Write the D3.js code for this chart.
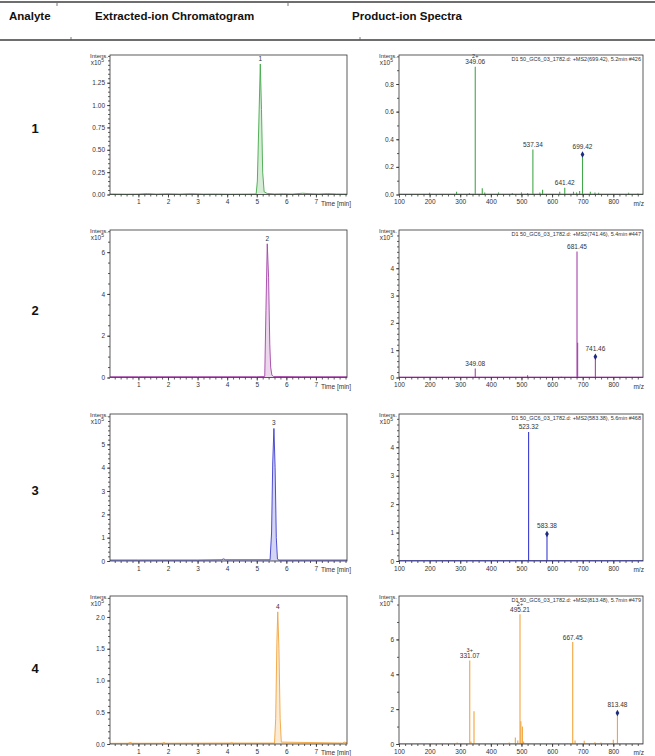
<!DOCTYPE html>
<html>
<head>
<meta charset="utf-8">
<script src="https://cdn.jsdelivr.net/npm/d3@7"></script>
<style>
  body { margin: 0; background: #fff; }
  svg { display: block; font-family: "Liberation Sans", Arial, sans-serif; }
  .axis text { font-size: 6.5px; fill: #333; }
  .axis path, .axis line { stroke: #333; stroke-width: 0.8; }
</style>
</head>
<body>
<div id="chart"></div>
<script>
const analytes = ['1', '2', '3', '4']
const colors = ['#43a84a', '#a444a8', '#3b3bd0', '#f2a43c']
const scanInfo = [
  'D1 50_GC6_03_1782.d: +MS2(699.42), 5.2min #426',
  'D1 50_GC6_03_1782.d: +MS2(741.46), 5.4min #447',
  'D1 50_GC6_03_1782.d: +MS2(583.38), 5.6min #468',
  'D1 50_GC6_03_1782.d: +MS2(813.48), 5.7min #479'
]
const chromExp = [5, 5, 5, 5]
const specExp = [5, 5, 5, 4]

// extracted-ion chromatograms: [time min, intensity x10^exp]
const chrom1 = [[0.04, 0.006], [0.6, 0.004], [1.0, 0.005], [1.3, 0.01], [1.6, 0.005], [2.0, 0.008], [2.4, 0.005], [2.75, 0.009], [3.2, 0.005], [3.6, 0.006], [4.1, 0.004], [4.6, 0.005], [4.98, 0.006], [5.02, 0.15], [5.07, 0.8], [5.12, 1.46], [5.16, 0.95], [5.2, 0.25], [5.25, 0.03], [5.35, 0.012], [5.6, 0.006], [5.9, 0.008], [6.2, 0.005], [6.55, 0.014], [6.8, 0.009], [7.1, 0.006], [7.4, 0.01], [7.7, 0.006], [8.05, 0.005]]
const chrom2 = [[0.04, 0.04], [1, 0.04], [2, 0.04], [3, 0.04], [4, 0.04], [5, 0.04], [5.27, 0.05], [5.31, 3.2], [5.355, 6.4], [5.4, 4.8], [5.44, 1.6], [5.47, 0.5], [5.51, 0.12], [5.56, 0.05], [6.5, 0.04], [8.05, 0.04]]
const chrom3 = [[0.04, 0.04], [1, 0.04], [2, 0.04], [3, 0.04], [3.8, 0.05], [3.88, 0.09], [3.95, 0.05], [5.45, 0.05], [5.5, 1.2], [5.54, 4.2], [5.58, 5.68], [5.62, 4.0], [5.66, 1.0], [5.7, 0.08], [5.75, 0.04], [8.05, 0.04]]
const chrom4 = [[0.04, 0.01], [0.65, 0.012], [0.72, 0.025], [0.8, 0.012], [1.8, 0.012], [1.86, 0.025], [1.92, 0.012], [4.1, 0.015], [4.15, 0.025], [4.2, 0.015], [5.6, 0.015], [5.64, 0.4], [5.68, 1.6], [5.71, 2.08], [5.75, 1.5], [5.79, 0.4], [5.83, 0.03], [7.9, 0.015], [7.95, 0.03], [8.05, 0.02]]

// product-ion spectra: [m/z, intensity x10^exp]
const spec1 = [[200, 0.012], [288, 0.02], [330, 0.01], [349.06, 0.925], [372, 0.045], [380, 0.015], [425, 0.015], [470, 0.01], [500, 0.015], [520, 0.01], [537.34, 0.326], [560, 0.015], [569, 0.035], [625, 0.02], [641.42, 0.048], [670, 0.02], [680, 0.015], [690, 0.025], [699.42, 0.29], [725, 0.02], [740, 0.015], [752, 0.012], [850, 0.012], [880, 0.008]]
const spec2 = [[349.08, 0.33], [520, 0.08], [630, 0.03], [681.45, 4.61], [683.5, 1.27], [741.46, 0.76]]
const spec3 = [[523.32, 4.54], [583.38, 0.95]]
const spec4 = [[240, 0.05], [290, 0.08], [331.07, 4.79], [335, 0.15], [345, 1.88], [460, 0.08], [480, 0.38], [488, 0.2], [495.21, 7.44], [498, 1.3], [503, 1.01], [507, 0.15], [650, 0.05], [667.45, 5.85], [675, 0.2], [705, 0.18], [740, 0.1], [760, 0.08], [800, 0.25], [813.48, 1.78]]

// labelled peaks: [m/z, charge]
const labels1 = [[349.06, '2+'], [537.34, ''], [641.42, ''], [699.42, '']]
const labels2 = [[349.08, ''], [681.45, ''], [741.46, '']]
const labels3 = [[523.32, ''], [583.38, '']]
const labels4 = [[331.07, '3+'], [495.21, '2+'], [667.45, ''], [813.48, '']]
const precursorMz = [699.42, 741.46, 583.38, 813.48]

// axis settings
const chromTicks = [[0, 0.25, 0.5, 0.75, 1.0, 1.25], [0, 2, 4, 6], [0, 1, 2, 3, 4, 5], [0, 0.5, 1.0, 1.5, 2.0]]
const chromTop = [1.56, 7.06, 6.3, 2.33]
const chromMinor = [0.05, 0.5, 0.2, 0.1]
const chromFmt = ['.2f', 'd', 'd', '.1f']
const specTicks = [[0, 0.2, 0.4, 0.6, 0.8], [0, 1, 2, 3, 4], [0, 1, 2, 3, 4], [0, 2, 4, 6]]
const specTop = [1.01, 5.4, 5.17, 8.49]
const specMinor = [0.1, 0.2, 0.2, 1]
const specFmt = ['.1f', 'd', 'd', 'd']
const timeTicks = [1, 2, 3, 4, 5, 6, 7]
const mzTicks = [100, 200, 300, 400, 500, 600, 700, 800]

const chroms = [chrom1, chrom2, chrom3, chrom4]
const specs = [spec1, spec2, spec3, spec4]
const peakLabels = [labels1, labels2, labels3, labels4]

const W = 655
const H = 756
const rows = [
  { top: 55, bottom: 194.5, mid: 128 },
  { top: 230, bottom: 377.5, mid: 310 },
  { top: 414, bottom: 561, mid: 490 },
  { top: 596, bottom: 744, mid: 668 }
]
const chromX = [110, 347]
const specX = [399, 643]

const svg = d3.select('#chart').append('svg').attr('width', W).attr('height', H)

// table header
svg.append('line').attr('x1', 0).attr('x2', W).attr('y1', 2).attr('y2', 2)
  .attr('stroke', '#6e6e6e').attr('stroke-width', 2)
svg.append('line').attr('x1', 0).attr('x2', W).attr('y1', 40).attr('y2', 40)
  .attr('stroke', '#6e6e6e').attr('stroke-width', 2)
;[[57, 3, 6], [288, 3, 6], [71, 40, 37], [360, 40, 37]].forEach(d => {
  svg.append('line').attr('x1', d[0]).attr('x2', d[0]).attr('y1', d[1]).attr('y2', d[2])
    .attr('stroke', '#555').attr('stroke-width', 0.8)
})
const head = svg.append('g').style('font-weight', 'bold').style('font-size', '11.5px').attr('fill', '#111')
head.append('text').attr('x', 9).attr('y', 20).text('Analyte')
head.append('text').attr('x', 95).attr('y', 20).text('Extracted-ion Chromatogram')
head.append('text').attr('x', 352).attr('y', 20).text('Product-ion Spectra')

function unitLabel(g, xAxisPos, top, exp) {
  g.append('text').attr('x', xAxisPos - 2).attr('y', top + 2.5).attr('text-anchor', 'end')
    .style('font-size', '6px').attr('fill', '#333').text('Intens.')
  const t2 = g.append('text').attr('text-anchor', 'end').style('font-size', '6.5px').attr('fill', '#333')
  t2.append('tspan').attr('x', xAxisPos - 6).attr('y', top + 9.5).text('x10')
  t2.append('tspan').attr('dy', -2.5).style('font-size', '5px').text(exp)
}

function frame(g, x0, x1, top, bottom) {
  g.append('rect').attr('x', x0).attr('y', top).attr('width', x1 - x0).attr('height', bottom - top)
    .attr('fill', 'none').attr('stroke', '#333').attr('stroke-width', 0.8)
}

function drawChrom(i) {
  const r = rows[i]
  const g = svg.append('g')
  const x = d3.scaleLinear().domain([0.04, 8.05]).range(chromX)
  const y = d3.scaleLinear().domain([0, chromTop[i]]).range([r.bottom, r.top])
  const data = chroms[i]

  g.append('path').datum(data)
    .attr('d', d3.area().x(d => x(d[0])).y0(y(0)).y1(d => y(d[1])))
    .attr('fill', colors[i]).attr('fill-opacity', 0.22)
  g.append('path').datum(data)
    .attr('d', d3.line().x(d => x(d[0])).y(d => y(d[1])))
    .attr('fill', 'none').attr('stroke', colors[i]).attr('stroke-width', 0.9)

  frame(g, chromX[0], chromX[1], r.top, r.bottom)

  // minor ticks
  g.append('g').attr('class', 'axis').attr('transform', `translate(0,${r.bottom})`)
    .call(d3.axisBottom(x).tickValues(d3.range(0.2, 8.01, 0.2)).tickSize(2).tickFormat(''))
    .call(a => a.select('.domain').remove())
  g.append('g').attr('class', 'axis').attr('transform', `translate(${chromX[0]},0)`)
    .call(d3.axisLeft(y).tickValues(d3.range(0, chromTop[i], chromMinor[i])).tickSize(2).tickFormat(''))
    .call(a => a.select('.domain').remove())
  // major ticks
  g.append('g').attr('class', 'axis').attr('transform', `translate(0,${r.bottom})`)
    .call(d3.axisBottom(x).tickValues(timeTicks).tickSize(3).tickPadding(2).tickFormat(d3.format('d')))
    .call(a => a.select('.domain').remove())
  g.append('g').attr('class', 'axis').attr('transform', `translate(${chromX[0]},0)`)
    .call(d3.axisLeft(y).tickValues(chromTicks[i]).tickSize(3).tickPadding(2).tickFormat(d3.format(chromFmt[i])))
    .call(a => a.select('.domain').remove())

  g.append('text').attr('x', x(7) + 5).attr('y', r.bottom + 11)
    .style('font-size', '6.5px').attr('fill', '#333').text('Time [min]')
  unitLabel(g, chromX[0], r.top, chromExp[i])

  const apex = data.reduce((a, b) => (b[1] > a[1] ? b : a))
  g.append('text').attr('x', x(apex[0])).attr('y', y(apex[1]) - 3).attr('text-anchor', 'middle')
    .style('font-size', '6.5px').attr('fill', '#333').text(analytes[i])
}

function drawSpec(i) {
  const r = rows[i]
  const g = svg.append('g')
  const x = d3.scaleLinear().domain([100, 897]).range(specX)
  const y = d3.scaleLinear().domain([0, specTop[i]]).range([r.bottom, r.top])
  const data = specs[i]

  g.append('line').attr('x1', specX[0]).attr('x2', specX[1]).attr('y1', y(0) - 0.5).attr('y2', y(0) - 0.5)
    .attr('stroke', colors[i]).attr('stroke-width', 0.8)
  g.selectAll('.stick').data(data).join('line').attr('class', 'stick')
    .attr('x1', d => x(d[0])).attr('x2', d => x(d[0]))
    .attr('y1', y(0)).attr('y2', d => y(d[1]))
    .attr('stroke', colors[i]).attr('stroke-width', 1.1)

  frame(g, specX[0], specX[1], r.top, r.bottom)

  g.append('g').attr('class', 'axis').attr('transform', `translate(0,${r.bottom})`)
    .call(d3.axisBottom(x).tickValues(d3.range(120, 897, 20)).tickSize(2).tickFormat(''))
    .call(a => a.select('.domain').remove())
  g.append('g').attr('class', 'axis').attr('transform', `translate(${specX[0]},0)`)
    .call(d3.axisLeft(y).tickValues(d3.range(0, specTop[i], specMinor[i])).tickSize(2).tickFormat(''))
    .call(a => a.select('.domain').remove())
  g.append('g').attr('class', 'axis').attr('transform', `translate(0,${r.bottom})`)
    .call(d3.axisBottom(x).tickValues(mzTicks).tickSize(3).tickPadding(2).tickFormat(d3.format('d')))
    .call(a => a.select('.domain').remove())
  g.append('g').attr('class', 'axis').attr('transform', `translate(${specX[0]},0)`)
    .call(d3.axisLeft(y).tickValues(specTicks[i]).tickSize(3).tickPadding(2).tickFormat(d3.format(specFmt[i])))
    .call(a => a.select('.domain').remove())

  g.append('text').attr('x', x(900)).attr('y', r.bottom + 11).attr('text-anchor', 'end')
    .style('font-size', '6.5px').attr('fill', '#333').text('m/z')
  unitLabel(g, specX[0], r.top, specExp[i])

  g.append('text').attr('x', specX[1] - 2).attr('y', r.top + 5.5).attr('text-anchor', 'end')
    .style('font-size', '5.5px').attr('fill', '#333').text(scanInfo[i])

  const lookup = new Map(data.map(d => [d[0], d[1]]))
  const p = precursorMz[i]
  peakLabels[i].forEach(([mz, charge]) => {
    const top = y(lookup.get(mz)) - (mz === p ? 3 : 0)
    g.append('text').attr('x', x(mz)).attr('y', top - 2.5).attr('text-anchor', 'middle')
      .style('font-size', '6.5px').attr('fill', '#333').text(mz.toFixed(2))
    if (charge) {
      g.append('text').attr('x', x(mz)).attr('y', top - 8.5).attr('text-anchor', 'middle')
        .style('font-size', '5.5px').attr('fill', '#333').text(charge)
    }
  })
  g.append('path').attr('d', d3.symbol(d3.symbolDiamond, 12)())
    .attr('transform', `translate(${x(p)},${y(lookup.get(p))})`).attr('fill', '#1c2a80')
}

rows.forEach((r, i) => {
  svg.append('text').attr('x', 35).attr('y', r.mid + 5).attr('text-anchor', 'middle')
    .style('font-weight', 'bold').style('font-size', '13px').attr('fill', '#111').text(analytes[i])
  drawChrom(i)
  drawSpec(i)
})
</script>
</body>
</html>
